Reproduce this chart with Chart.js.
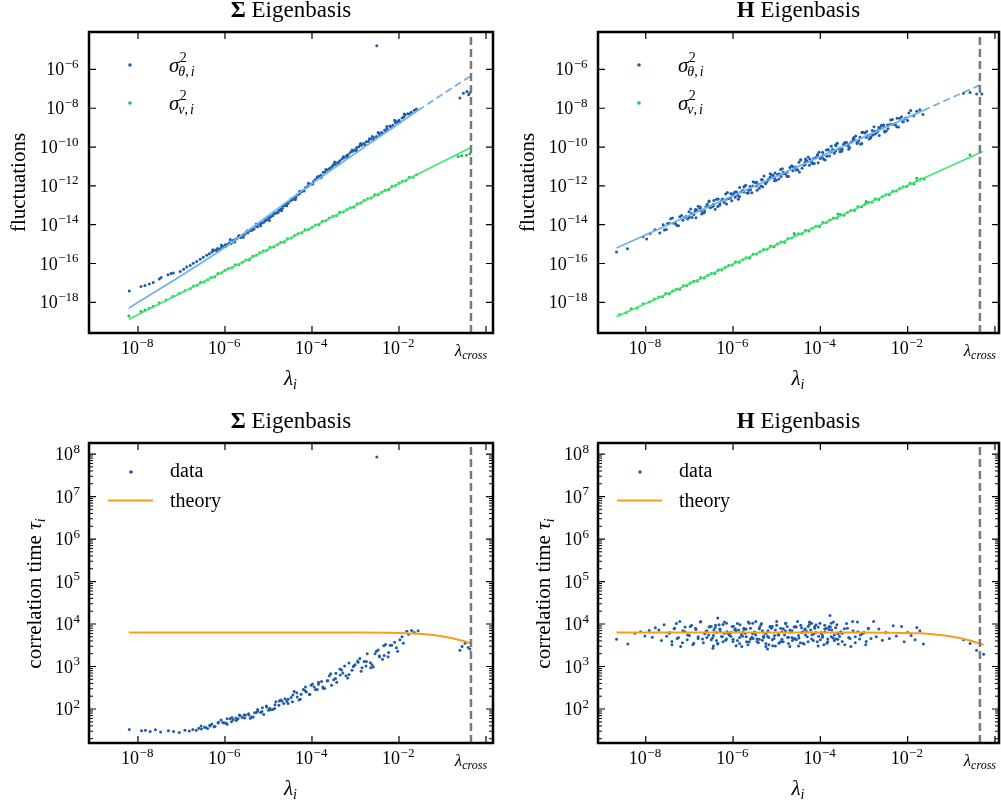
<!DOCTYPE html>
<html>
<head>
<meta charset="utf-8">
<script src="https://cdn.jsdelivr.net/npm/chart.js@4.4.1/dist/chart.umd.min.js"></script>
<style>
html, body { margin: 0; padding: 0; background: #fff; }
#wrap { position: relative; width: 1001px; height: 807px; }
canvas { position: absolute; left: 0; top: 0; }
</style>
</head>
<body>
<div id="wrap">
<canvas id="tl" width="1001" height="807"></canvas>
<canvas id="tr" width="1001" height="807"></canvas>
<canvas id="bl" width="1001" height="807"></canvas>
<canvas id="br" width="1001" height="807"></canvas>
</div>
<script>
// all values are log10 of what is plotted: [log10 lambda, log10 value]
var LAM_CROSS = -0.345;
var X_TICKS = [-8, -6, -4, -2, 0];
var X_LABELS = [-8, -6, -4, -2];
var Y_TICKS_FLUCT = [-18, -16, -14, -12, -10, -8, -6];
var Y_TICKS_TAU = [2, 3, 4, 5, 6, 7, 8];

// Sigma eigenbasis, sigma^2_theta
var sigThetaSigma = [
  [-8.20,-17.41],[-7.93,-17.19],[-7.84,-17.13],[-7.74,-17.05],[-7.65,-16.98],[-7.51,-16.80],[-7.47,-16.72],[-7.31,-16.58],[-7.24,-16.52],[-7.19,-16.49],
  [-7.03,-16.41],[-6.95,-16.30],[-6.88,-16.18],[-6.80,-16.10],[-6.73,-15.98],[-6.65,-15.90],[-6.57,-15.78],[-6.50,-15.68],[-6.42,-15.57],[-6.36,-15.50],
  [-6.30,-15.40],[-6.26,-15.33],[-6.21,-15.30],[-6.17,-15.22],[-6.12,-15.25],[-6.08,-15.15],[-6.03,-15.12],[-5.99,-15.03],[-5.95,-15.02],[-5.90,-14.93],
  [-5.86,-14.95],[-5.82,-14.82],[-5.77,-14.78],[-5.73,-14.72],[-5.69,-14.62],[-5.64,-14.66],[-5.60,-14.53],[-5.55,-14.50],[-5.51,-14.38],[-5.47,-14.42],
  [-5.42,-14.30],[-5.38,-14.21],[-5.33,-14.22],[-5.29,-14.08],[-5.25,-14.10],[-5.20,-13.98],[-5.16,-13.92],[-5.11,-13.87],[-5.07,-13.80],[-5.03,-13.74],
  [-4.98,-13.66],[-4.94,-13.58],[-4.90,-13.53],[-4.85,-13.42],[-4.81,-13.38],[-4.76,-13.27],[-4.72,-13.20],[-4.68,-13.15],[-4.63,-13.02],[-4.59,-12.93],
  [-4.55,-12.90],[-4.50,-12.78],[-4.46,-12.72],[-4.42,-12.60],[-4.37,-12.58],[-4.33,-12.45],[-4.29,-12.40],[-4.24,-12.30],[-4.20,-12.22],[-4.15,-12.10],
  [-4.11,-12.05],[-4.06,-11.93],[-4.02,-11.90],[-3.97,-11.78],[-3.93,-11.68],[-3.88,-11.62],[-3.84,-11.50],[-3.79,-11.45],[-3.74,-11.30],[-3.70,-11.28],
  [-3.65,-11.18],[-3.60,-11.10],[-3.55,-11.02],[-3.50,-10.90],[-3.46,-10.88],[-3.41,-10.80],[-3.36,-10.70],[-3.31,-10.62],[-3.26,-10.55],[-3.21,-10.45],
  [-3.17,-10.40],[-3.12,-10.28],[-3.07,-10.22],[-3.02,-10.15],[-2.97,-10.02],[-2.92,-9.98],[-2.86,-9.90],[-2.81,-9.82],[-2.75,-9.72],[-2.70,-9.70],
  [-2.64,-9.58],[-2.58,-9.52],[-2.52,-9.45],[-2.46,-9.30],[-2.40,-9.25],[-2.33,-9.12],[-2.27,-9.05],[-2.21,-8.92],[-2.14,-8.88],[-2.08,-8.75],
  [-2.00,-8.62],[-1.93,-8.50],[-1.86,-8.35],[-1.80,-8.28],[-1.72,-8.20],[-1.65,-8.10],[-1.60,-8.04],
  [-5.88,-14.98],[-5.49,-14.40],[-5.01,-13.62],[-4.70,-13.28],[-4.40,-12.70],[-4.09,-12.00],[-3.81,-11.58],[-3.52,-10.96],[-3.19,-10.50],[-2.89,-9.88],
  [-2.61,-9.45],[-2.30,-9.18],[-2.02,-8.70],[-2.44,-9.40],[-2.99,-10.20],[-1.89,-8.45],[-2.18,-9.00],[-1.76,-8.30],[-2.10,-8.62],
  [-6.28,-15.29],[-6.18,-15.34],[-6.08,-15.05],[-5.98,-15.11],[-5.88,-14.76],[-5.78,-14.89],[-5.68,-14.55],[-5.58,-14.64],[-5.48,-14.31],[-5.38,-14.29],
  [-5.28,-13.96],[-5.18,-14.05],[-5.08,-13.74],[-4.98,-13.78],[-4.88,-13.39],[-4.78,-13.38],[-4.68,-13.03],[-4.58,-13.02],[-4.48,-12.67],[-4.38,-12.70],
  [-4.28,-12.28],[-4.18,-12.26],[-4.08,-11.86],[-3.98,-11.90],[-3.88,-11.54],[-3.78,-11.54],[-3.68,-11.15],[-3.58,-11.15],[-3.48,-10.77],[-3.38,-10.85],
  [-3.28,-10.50],[-3.18,-10.54],[-3.08,-10.15],[-2.98,-10.13],[-2.88,-9.81],[-2.78,-9.88],[-2.68,-9.57],[-2.58,-9.64],[-2.48,-9.25],[-2.38,-9.29],
  [-2.28,-8.94],[-2.18,-9.00],[-2.08,-8.67],[-1.98,-8.71],[-1.88,-8.30],
  [-0.60,-7.47],[-0.52,-7.22],[-0.44,-7.13],[-0.40,-7.30],[-0.37,-7.20],
  [-2.51,-4.78]
];

// Sigma eigenbasis, sigma^2_v
var sigVSigma = [
  [-8.21,-18.70],[-7.93,-18.47],[-7.84,-18.39],[-7.74,-18.30],[-7.65,-18.20],[-7.51,-18.02],[-7.35,-17.88],[-7.20,-17.70],[-7.05,-17.55],[-6.92,-17.40],[-6.80,-17.30],
  [-6.72,-17.16],[-6.64,-17.12],[-6.56,-16.96],[-6.48,-16.95],[-6.40,-16.83],[-6.32,-16.72],[-6.24,-16.70],[-6.16,-16.52],[-6.08,-16.48],[-6.00,-16.35],
  [-5.92,-16.26],[-5.84,-16.22],[-5.76,-16.06],[-5.68,-16.05],[-5.60,-15.93],[-5.52,-15.82],[-5.44,-15.80],[-5.36,-15.62],[-5.28,-15.58],[-5.20,-15.45],
  [-5.12,-15.36],[-5.04,-15.32],[-4.96,-15.16],[-4.88,-15.15],[-4.80,-15.03],[-4.72,-14.92],[-4.64,-14.90],[-4.56,-14.72],[-4.48,-14.68],[-4.40,-14.55],
  [-4.32,-14.46],[-4.24,-14.42],[-4.16,-14.26],[-4.08,-14.25],[-4.00,-14.13],[-3.92,-14.02],[-3.84,-14.00],[-3.76,-13.82],[-3.68,-13.78],[-3.60,-13.65],
  [-3.52,-13.56],[-3.44,-13.52],[-3.36,-13.36],[-3.28,-13.35],[-3.20,-13.23],[-3.12,-13.12],[-3.04,-13.10],[-2.96,-12.92],[-2.88,-12.88],[-2.80,-12.75],
  [-2.72,-12.66],[-2.64,-12.62],[-2.56,-12.46],[-2.48,-12.45],[-2.40,-12.33],[-2.32,-12.22],[-2.24,-12.20],[-2.16,-12.02],[-2.08,-11.98],[-2.00,-11.85],
  [-1.92,-11.76],[-1.84,-11.72],[-1.76,-11.56],[-1.68,-11.55],[-1.60,-11.43],
  [-0.64,-10.48],[-0.56,-10.45],[-0.45,-10.42],[-0.37,-10.35]
];

// H eigenbasis, sigma^2_theta
var sigThetaH = [
  [-8.67,-15.41],[-8.42,-15.24],[-8.06,-14.62],[-7.98,-14.74],[-7.90,-14.45],[-7.79,-14.26],[-7.68,-14.43],
  [-7.60,-14.00],[-7.53,-14.25],[-7.46,-13.93],[-7.39,-13.66],[-7.32,-13.92],[-7.25,-14.05],[-7.18,-13.52],[-7.11,-13.63],[-7.04,-13.71],[-6.97,-13.19],
  [-6.90,-13.47],[-6.83,-13.24],[-6.76,-13.15],[-6.69,-13.40],[-6.62,-13.08],[-6.55,-12.81],[-6.48,-13.07],[-6.41,-13.20],[-6.34,-12.67],[-6.27,-12.78],
  [-6.20,-12.86],[-6.13,-12.34],[-6.06,-12.62],[-5.99,-12.40],[-5.92,-12.31],[-5.85,-12.56],[-5.78,-12.24],[-5.71,-11.97],[-5.64,-12.23],[-5.57,-12.35],
  [-5.50,-11.82],[-5.43,-11.93],[-5.36,-12.01],[-5.29,-11.49],[-5.22,-11.77],[-5.15,-11.55],[-5.08,-11.46],[-5.01,-11.71],[-4.94,-11.39],[-4.87,-11.12],
  [-4.80,-11.38],[-4.73,-11.51],[-4.66,-10.98],[-4.59,-11.09],[-4.52,-11.17],[-4.45,-10.65],[-4.38,-10.93],[-4.31,-10.70],[-4.24,-10.61],[-4.17,-10.86],
  [-4.10,-10.54],[-4.03,-10.27],[-3.96,-10.53],[-3.89,-10.66],[-3.82,-10.13],[-3.75,-10.24],[-3.68,-10.32],[-3.61,-9.80],[-3.54,-10.08],[-3.47,-9.86],
  [-3.40,-9.77],[-3.33,-10.02],[-3.26,-9.70],[-3.19,-9.43],[-3.12,-9.69],[-3.05,-9.81],[-2.98,-9.28],[-2.91,-9.39],[-2.84,-9.47],[-2.77,-8.95],
  [-2.70,-9.23],[-2.63,-9.01],[-2.56,-8.92],[-2.49,-9.17],[-2.42,-8.85],[-2.35,-8.58],[-2.28,-8.84],[-2.21,-8.97],[-2.14,-8.44],[-2.07,-8.55],
  [-2.00,-8.63],[-1.93,-8.11],[-1.86,-8.38],[-1.79,-8.16],[-1.72,-8.07],[-1.65,-8.32],
  [-7.00,-13.62],[-6.86,-13.22],[-6.72,-13.45],[-6.58,-13.07],[-6.44,-12.75],[-6.30,-12.93],[-6.16,-12.69],[-6.02,-12.45],[-5.88,-12.69],[-5.74,-12.03],
  [-5.60,-12.20],[-5.46,-11.81],[-5.32,-12.04],[-5.18,-11.66],[-5.04,-11.34],[-4.90,-11.52],[-4.76,-11.28],[-4.62,-11.04],[-4.48,-11.28],[-4.34,-10.61],
  [-4.20,-10.79],[-4.06,-10.40],[-3.92,-10.63],[-3.78,-10.25],[-3.64,-9.93],[-3.50,-10.11],[-3.36,-9.87],[-3.22,-9.63],[-3.08,-9.86],[-2.94,-9.20],
  [-2.80,-9.38],[-2.66,-8.99],[-2.52,-9.22],[-2.38,-8.84],[-2.24,-8.52],[-2.10,-8.70],
  [-7.57,-14.27],[-7.50,-13.94],[-7.43,-13.69],[-7.36,-13.92],[-7.29,-14.03],[-7.22,-13.59],[-7.15,-13.77],[-7.08,-13.58],[-7.01,-13.33],[-6.94,-13.63],
  [-6.87,-13.30],[-6.80,-13.05],[-6.73,-13.28],[-6.66,-13.39],[-6.59,-12.95],[-6.52,-13.13],[-6.45,-12.94],[-6.38,-12.69],[-6.31,-13.00],[-6.24,-12.67],
  [-6.17,-12.42],[-6.10,-12.65],[-6.03,-12.76],[-5.96,-12.32],[-5.89,-12.50],[-5.82,-12.31],[-5.75,-12.06],[-5.68,-12.36],[-5.61,-12.03],[-5.54,-11.78],
  [-5.47,-12.01],[-5.40,-12.12],[-5.33,-11.68],[-5.26,-11.86],[-5.19,-11.67],[-5.12,-11.42],[-5.05,-11.73],[-4.98,-11.40],[-4.91,-11.15],[-4.84,-11.38],
  [-4.77,-11.49],[-4.70,-11.05],[-4.63,-11.22],[-4.56,-11.03],[-4.49,-10.78],[-4.42,-11.09],[-4.35,-10.76],[-4.28,-10.51],[-4.21,-10.74],[-4.14,-10.85],
  [-4.07,-10.41],[-4.00,-10.59],[-3.93,-10.40],[-3.86,-10.15],[-3.79,-10.46],[-3.72,-10.13],[-3.65,-9.88],[-3.58,-10.10],[-3.51,-10.21],[-3.44,-9.77],
  [-3.37,-9.95],[-3.30,-9.76],[-3.23,-9.51],[-3.16,-9.82],[-3.09,-9.49],[-3.02,-9.24],[-2.95,-9.47],[-2.88,-9.58],[-2.81,-9.14],[-2.74,-9.32],
  [-2.67,-9.13],[-2.60,-8.88],[-2.53,-9.19],[-2.46,-8.86],[-2.39,-8.61],[-2.32,-8.84],[-2.25,-8.95],[-2.18,-8.51],[-2.11,-8.69],[-2.04,-8.50],
  [-1.97,-8.25],
  [-6.95,-13.42],[-6.85,-13.64],[-6.75,-13.09],[-6.65,-13.29],[-6.55,-12.78],[-6.45,-13.02],[-6.35,-13.06],[-6.25,-12.71],[-6.15,-12.93],[-6.05,-12.39],
  [-5.95,-12.59],[-5.85,-12.08],[-5.75,-12.32],[-5.65,-12.36],[-5.55,-12.00],[-5.45,-12.22],[-5.35,-11.68],[-5.25,-11.88],[-5.15,-11.37],[-5.05,-11.61],
  [-4.95,-11.65],[-4.85,-11.30],[-4.75,-11.52],[-4.65,-10.98],[-4.55,-11.18],[-4.45,-10.67],[-4.35,-10.90],[-4.25,-10.94],[-4.15,-10.59],[-4.05,-10.81],
  [-3.95,-10.27],[-3.85,-10.47],[-3.75,-9.96],[-3.65,-10.20],[-3.55,-10.24],[-3.45,-9.89],[-3.35,-10.11],[-3.25,-9.57],[-3.15,-9.77],[-3.05,-9.25],
  [-2.95,-9.49],[-2.85,-9.53],[-2.75,-9.18],[-2.65,-9.40],[-2.55,-8.86],[-2.45,-9.06],
  [-0.72,-7.22],[-0.57,-7.19],[-0.42,-7.27],[-0.30,-7.27]
];

// H eigenbasis, sigma^2_v
var sigVH = [
  [-8.60,-18.64],[-8.45,-18.54],[-8.33,-18.33],[-8.20,-18.29],[-8.06,-18.07],[-7.92,-17.98],[-7.80,-17.83],
  [-7.70,-17.72],[-7.62,-17.71],[-7.54,-17.54],[-7.46,-17.56],[-7.38,-17.42],[-7.30,-17.32],[-7.22,-17.33],[-7.14,-17.14],[-7.06,-17.13],[-6.98,-17.01],
  [-6.90,-16.91],[-6.82,-16.90],[-6.74,-16.72],[-6.66,-16.75],[-6.58,-16.61],[-6.50,-16.51],[-6.42,-16.52],[-6.34,-16.33],[-6.26,-16.32],[-6.18,-16.20],
  [-6.10,-16.10],[-6.02,-16.08],[-5.94,-15.91],[-5.86,-15.94],[-5.78,-15.80],[-5.70,-15.70],[-5.62,-15.71],[-5.54,-15.52],[-5.46,-15.51],[-5.38,-15.39],
  [-5.30,-15.28],[-5.22,-15.27],[-5.14,-15.10],[-5.06,-15.13],[-4.98,-14.99],[-4.90,-14.89],[-4.82,-14.90],[-4.74,-14.71],[-4.66,-14.69],[-4.58,-14.57],
  [-4.50,-14.47],[-4.42,-14.46],[-4.34,-14.29],[-4.26,-14.32],[-4.18,-14.18],[-4.10,-14.08],[-4.02,-14.09],[-3.94,-13.89],[-3.86,-13.88],[-3.78,-13.76],
  [-3.70,-13.66],[-3.62,-13.65],[-3.54,-13.48],[-3.46,-13.51],[-3.38,-13.37],[-3.30,-13.27],[-3.22,-13.27],[-3.14,-13.08],[-3.06,-13.07],[-2.98,-12.95],
  [-2.90,-12.85],[-2.82,-12.84],[-2.74,-12.67],[-2.66,-12.70],[-2.58,-12.56],[-2.50,-12.45],[-2.42,-12.46],[-2.34,-12.27],[-2.26,-12.26],[-2.18,-12.14],
  [-2.10,-12.04],[-2.02,-12.03],[-1.94,-11.86],[-1.86,-11.89],[-1.78,-11.74],[-1.70,-11.64],[-1.62,-11.65],
  [-2.95,-12.80],[-3.60,-13.45],[-1.79,-11.60],[-4.60,-14.45],
  [-0.57,-10.40]
];

// Sigma eigenbasis, correlation time
var tauSigma = [
  [-8.20,1.52],[-7.92,1.49],[-7.83,1.50],[-7.72,1.47],[-7.60,1.51],[-7.48,1.46],[-7.30,1.49],[-7.18,1.47],[-7.05,1.45],[-6.92,1.50],
  [-6.82,1.48],[-6.74,1.52],[-6.66,1.50],[-6.60,1.55],[-6.54,1.53],[-6.47,1.57],[-6.40,1.54],[-6.34,1.60],
  [-6.30,1.65],[-6.23,1.59],[-6.16,1.67],[-6.09,1.74],[-6.02,1.67],[-5.95,1.64],[-5.88,1.77],[-5.81,1.75],[-5.74,1.73],[-5.67,1.86],
  [-5.60,1.80],[-5.53,1.86],[-5.46,1.89],[-5.39,1.81],[-5.32,1.91],[-5.25,1.99],[-5.18,1.92],[-5.11,1.87],[-5.04,2.05],[-4.97,2.02],
  [-4.90,1.99],[-4.83,2.17],[-4.76,2.09],[-4.69,2.19],[-4.62,2.24],[-4.55,2.13],[-4.48,2.27],[-4.41,2.41],[-4.34,2.28],[-4.27,2.23],
  [-4.20,2.46],[-4.13,2.40],[-4.06,2.34],[-3.99,2.59],[-3.92,2.46],[-3.85,2.58],[-3.78,2.65],[-3.71,2.48],[-3.64,2.67],[-3.57,2.83],
  [-3.50,2.69],[-3.43,2.63],[-3.36,2.94],[-3.29,2.85],[-3.22,2.78],[-3.15,3.08],[-3.08,2.91],[-3.01,3.04],[-2.94,3.10],[-2.87,2.89],
  [-2.80,3.12],[-2.73,3.30],[-2.66,3.09],[-2.59,2.99],[-2.52,3.36],[-2.45,3.25],[-2.38,3.17],[-2.31,3.52],[-2.24,3.33],[-2.17,3.50],
  [-2.10,3.57],[-2.03,3.36],
  [-5.98,1.67],[-5.84,1.80],[-5.70,1.77],[-5.56,1.86],[-5.42,1.78],[-5.28,1.92],[-5.14,2.03],[-5.00,1.97],[-4.86,2.01],[-4.72,2.21],
  [-4.58,2.18],[-4.44,2.33],[-4.30,2.21],[-4.16,2.43],[-4.02,2.56],[-3.88,2.46],[-3.74,2.49],[-3.60,2.78],[-3.46,2.72],[-3.32,2.92],
  [-3.18,2.73],[-3.04,3.01],[-2.90,3.19],[-2.76,3.01],[-2.62,3.04],[-2.48,3.39],[-2.34,3.26],[-2.20,3.50],
  [-6.55,1.60],[-6.45,1.57],[-6.35,1.62],[-6.25,1.58],[-6.15,1.69],[-6.05,1.68],[-5.95,1.77],[-5.85,1.70],[-5.75,1.79],[-5.65,1.84],
  [-5.55,1.79],[-5.45,1.86],[-5.35,1.81],[-5.25,1.95],[-5.15,1.94],[-5.05,2.07],[-4.95,1.98],[-4.85,2.10],[-4.75,2.19],[-4.65,2.13],
  [-4.55,2.23],[-4.45,2.17],[-4.35,2.38],[-4.25,2.35],[-4.15,2.52],[-4.05,2.35],[-3.95,2.52],[-3.85,2.63],[-3.75,2.52],[-3.65,2.66],
  [-3.55,2.56],[-3.45,2.84],[-3.35,2.80],[-3.25,3.01],[-3.15,2.81],[-3.05,3.00],[-2.95,3.13],[-2.85,2.97],[-2.75,3.12],[-2.65,2.97],
  [-2.55,3.30],[-2.45,3.23],[-2.35,3.49],[-2.25,3.23],
  [-1.98,3.63],[-1.93,3.70],[-1.90,3.55],[-1.82,3.83],[-1.78,3.76],[-1.71,3.85],[-1.65,3.80],[-1.56,3.84],[-2.06,3.44],
  [-0.60,3.38],[-0.55,3.47],[-0.48,3.55],[-0.41,3.45],[-0.37,3.41],
  [-2.51,7.93]
];

// H eigenbasis, correlation time
var tauH = [
  [-8.67,3.64],[-8.41,3.53],[-8.25,3.78],[-8.12,3.82],[-8.02,3.72],[-7.92,3.85],[-7.85,3.69],[-7.78,3.91],
  [-7.70,3.86],[-7.64,3.61],[-7.58,3.98],[-7.52,3.71],[-7.46,3.78],[-7.40,3.51],[-7.34,3.90],[-7.28,3.66],[-7.22,4.06],[-7.16,3.56],[-7.10,3.82],[-7.04,3.74],[-6.98,3.94],
  [-6.92,3.51],[-6.86,3.90],[-6.80,3.66],[-6.74,4.06],[-6.68,3.56],[-6.62,3.82],[-6.56,3.74],[-6.50,3.94],[-6.44,3.86],[-6.38,3.61],[-6.32,3.98],[-6.26,3.71],[-6.20,3.78],
  [-6.14,3.82],[-6.08,3.74],[-6.02,3.94],[-5.96,3.86],[-5.90,3.61],[-5.84,3.98],[-5.78,3.71],[-5.72,3.78],[-5.66,3.51],[-5.60,3.90],[-5.54,3.66],[-5.48,4.06],[-5.42,3.56],
  [-5.36,3.98],[-5.30,3.71],[-5.24,3.78],[-5.18,3.51],[-5.12,3.90],[-5.06,3.66],[-5.00,4.06],[-4.94,3.56],[-4.88,3.82],[-4.82,3.74],[-4.76,3.94],[-4.70,3.86],[-4.64,3.61],
  [-4.58,3.66],[-4.52,4.06],[-4.46,3.56],[-4.40,3.82],[-4.34,3.74],[-4.28,3.94],[-4.22,3.86],[-4.16,3.61],[-4.10,3.98],[-4.04,3.71],[-3.98,3.78],[-3.92,3.51],[-3.86,3.90],
  [-3.80,3.94],[-3.74,3.86],[-3.68,3.61],[-3.62,3.98],[-3.56,3.71],[-3.50,3.78],[-3.44,3.51],[-3.38,3.90],[-3.32,3.66],[-3.26,4.06],[-3.20,3.56],[-3.14,3.82],[-3.08,3.74],
  [-3.02,3.78],[-2.96,3.51],[-2.90,3.90],[-2.84,3.66],[-2.78,4.06],
  [-6.60,3.68],[-6.53,3.94],[-6.45,3.48],[-6.38,3.80],[-6.30,3.88],[-6.23,3.58],[-6.15,4.02],[-6.08,3.74],[-6.00,3.64],[-5.93,3.84],[-5.85,3.54],
  [-5.78,3.80],[-5.70,3.88],[-5.63,3.58],[-5.55,4.02],[-5.48,3.74],[-5.40,3.64],[-5.33,3.84],[-5.25,3.54],[-5.18,3.68],[-5.10,3.94],[-5.03,3.48],
  [-4.95,3.74],[-4.88,3.64],[-4.80,3.84],[-4.73,3.54],[-4.65,3.68],[-4.58,3.94],[-4.50,3.48],[-4.43,3.80],[-4.35,3.88],[-4.28,3.58],[-4.20,4.02],
  [-4.13,3.94],[-4.05,3.48],[-3.98,3.80],[-3.90,3.88],[-3.83,3.58],[-3.75,4.02],[-3.68,3.74],[-3.60,3.64],
  [-7.45,3.80],[-7.40,3.59],[-7.35,3.89],[-7.30,4.01],[-7.25,3.68],[-7.20,3.47],[-7.15,3.84],[-7.10,3.93],[-7.05,3.63],[-7.00,3.73],
  [-6.95,3.97],[-6.90,3.55],[-6.85,3.87],[-6.80,3.70],[-6.75,4.05],[-6.70,3.65],[-6.65,3.77],
  [-6.60,3.84],[-6.55,3.93],[-6.50,3.63],[-6.45,3.73],[-6.40,3.97],[-6.35,3.55],[-6.30,3.87],[-6.25,3.70],[-6.20,4.05],[-6.15,3.65],
  [-6.10,3.77],[-6.05,3.80],[-6.00,3.59],[-5.95,3.89],[-5.90,4.01],[-5.85,3.68],[-5.80,3.47],
  [-5.75,3.87],[-5.70,3.70],[-5.65,4.05],[-5.60,3.65],[-5.55,3.77],[-5.50,3.80],[-5.45,3.59],[-5.40,3.89],[-5.35,4.01],[-5.30,3.68],
  [-5.25,3.47],[-5.20,3.84],[-5.15,3.93],[-5.10,3.63],[-5.05,3.73],[-5.00,3.97],[-4.95,3.55],
  [-4.90,3.59],[-4.85,3.89],[-4.80,4.01],[-4.75,3.68],[-4.70,3.47],[-4.65,3.84],[-4.60,3.93],[-4.55,3.63],[-4.50,3.73],[-4.45,3.97],
  [-4.40,3.55],[-4.35,3.87],[-4.30,3.70],[-4.25,4.05],[-4.20,3.65],[-4.15,3.77],[-4.10,3.80],
  [-4.05,3.93],[-4.00,3.63],[-3.95,3.73],[-3.90,3.97],[-3.85,3.55],[-3.80,3.87],[-3.75,3.70],[-3.70,4.05],[-3.65,3.65],[-3.60,3.77],
  [-3.55,3.80],[-3.50,3.59],[-3.45,3.89],[-3.40,4.01],[-3.35,3.68],[-3.30,3.47],[-3.25,3.84],
  [-3.20,3.70],[-3.15,4.05],[-3.10,3.65],[-3.05,3.77],[-3.00,3.80],[-2.95,3.59],[-2.90,3.89],
  [-6.47,3.67],[-6.41,3.91],[-6.35,3.53],[-6.29,3.82],[-6.23,3.99],[-6.17,3.62],[-6.11,3.78],[-6.05,3.71],[-5.99,3.95],[-5.93,3.49],
  [-5.87,3.86],[-5.81,3.75],[-5.75,3.90],[-5.69,3.58],[-5.63,4.02],[-5.57,3.69],[-5.51,3.81],[-5.45,3.65],[-5.39,3.93],
  [-5.33,3.62],[-5.27,3.78],[-5.21,3.71],[-5.15,3.95],[-5.09,3.49],[-5.03,3.86],[-4.97,3.75],[-4.91,3.90],[-4.85,3.58],[-4.79,4.02],
  [-4.73,3.69],[-4.67,3.81],[-4.61,3.65],[-4.55,3.93],[-4.49,3.67],[-4.43,3.91],[-4.37,3.53],[-4.31,3.82],[-4.25,3.99],
  [-4.19,3.75],[-4.13,3.90],[-4.07,3.58],[-4.01,4.02],[-3.95,3.69],[-3.89,3.81],[-3.83,3.65],[-3.77,3.93],[-3.71,3.67],[-3.65,3.91],
  [-3.59,3.53],[-3.53,3.82],
  [-2.72,3.70],[-2.66,3.88],[-2.58,3.62],[-2.50,3.80],[-2.42,3.66],[-2.33,3.96],[-2.26,3.72],[-2.14,3.94],[-2.08,3.58],[-2.00,3.80],
  [-1.92,3.73],[-1.83,3.63],[-1.79,3.92],[-1.72,3.84],[-1.64,3.53],
  [-6.35,4.14],[-3.78,4.20],[-6.46,3.43],[-5.21,3.41],
  [-0.72,3.63],[-0.57,3.54],[-0.42,3.38],[-0.26,3.29]
];

// fitted / theory curves
var fitThetaSigma = [[-8.21,-18.30],[-6.11,-15.33],[-4.05,-11.96],[-1.56,-8.10]];
var fitThetaSigmaExt = [[-1.56,-8.10],[-0.37,-6.36]];
var fitVSigma = [[-8.21,-18.87],[-0.37,-10.05]];
var fitThetaH = [[-8.67,-15.20],[-1.64,-8.11]];
var fitThetaHExt = [[-1.64,-8.11],[-0.28,-6.74]];
var fitVH = [[-8.67,-18.74],[-0.28,-10.23]];
var theorySigma = [[-8.21,3.80],[-3.00,3.80],[-2.00,3.79],[-1.52,3.77],[-1.06,3.72],[-0.75,3.66],[-0.52,3.60],[-0.35,3.55]];
var theoryH = [[-8.67,3.80],[-3.00,3.80],[-2.20,3.79],[-1.72,3.78],[-1.41,3.76],[-1.03,3.71],[-0.64,3.63],[-0.26,3.51]];

var BLUE = '#1f5ca8', LBLUE = '#6db3ec', GREEN = '#22bd55', LGREEN = '#40e874', ORANGE = '#f89e1b', GREY = '#7a7a7a';
var SERIF = '"Liberation Serif", "DejaVu Serif", serif';

function toXY(arr) {
    return arr.map(function (p) { return { x: Math.pow(10, p[0]), y: Math.pow(10, p[1]) }; });
}

function dots(arr, color) {
    return { data: toXY(arr), backgroundColor: color, borderWidth: 0, pointRadius: 1.5, pointHoverRadius: 0, showLine: false, order: 2 };
}

function curve(arr, color, width, dash, smooth) {
    return {
        data: toXY(arr), borderColor: color, borderWidth: width, borderDash: dash || [],
        pointRadius: 0, pointHoverRadius: 0, showLine: true, fill: false, order: 1,
        cubicInterpolationMode: smooth ? 'monotone' : 'default', tension: smooth ? 0.4 : 0
    };
}

function crossLine(yMin, yMax) {
    return curve([[LAM_CROSS, yMin], [LAM_CROSS, yMax]], GREY, 2.5, [8, 4]);
}

function setFont(ctx, size, style) {
    ctx.font = (style ? style + ' ' : '') + size + 'px ' + SERIF;
}

// "10" with a raised exponent, like matplotlib's log tick labels
function powLabel(ctx, e, x, y, align) {
    var ex = e < 0 ? '\u2212' + (-e) : String(e);
    setFont(ctx, 18);
    var wb = ctx.measureText('10').width;
    setFont(ctx, 13);
    var we = ctx.measureText(ex).width + (e < 0 ? 1.5 : 0);
    var x0 = align === 'right' ? x - wb - we - 0.5 : x - (wb + we + 0.5) / 2;
    ctx.textAlign = 'left';
    setFont(ctx, 18);
    ctx.fillText('10', x0, y);
    setFont(ctx, 13);
    ctx.fillText(ex, x0 + wb + 0.5, y - 7.5);
}

var decorPlugin = {
    id: 'decor',
    afterDraw: function (chart, args, o) {
        var ctx = chart.ctx, a = chart.chartArea, xs = chart.scales.x, ys = chart.scales.y;
        ctx.save();
        ctx.fillStyle = '#000';
        ctx.strokeStyle = '#000';
        ctx.textBaseline = 'alphabetic';

        // inward ticks on all four sides
        ctx.lineWidth = 1.2;
        ctx.beginPath();
        X_TICKS.forEach(function (e) {
            var px = xs.getPixelForValue(Math.pow(10, e));
            ctx.moveTo(px, a.bottom); ctx.lineTo(px, a.bottom - 7);
            ctx.moveTo(px, a.top); ctx.lineTo(px, a.top + 7);
        });
        o.yTicks.forEach(function (e) {
            var py = ys.getPixelForValue(Math.pow(10, e));
            ctx.moveTo(a.left, py); ctx.lineTo(a.left + 7, py);
            ctx.moveTo(a.right, py); ctx.lineTo(a.right - 7, py);
        });
        ctx.stroke();
        if (o.yMinor) {
            ctx.lineWidth = 1;
            ctx.beginPath();
            for (var n = 1; n <= 8; n++) {
                for (var m = 2; m <= 9; m++) {
                    var v = m * Math.pow(10, n);
                    if (v < ys.min || v > ys.max) continue;
                    var py = ys.getPixelForValue(v);
                    ctx.moveTo(a.left, py); ctx.lineTo(a.left + 4, py);
                    ctx.moveTo(a.right, py); ctx.lineTo(a.right - 4, py);
                }
            }
            ctx.stroke();
        }

        // frame
        ctx.lineWidth = 2.5;
        ctx.strokeRect(a.left, a.top, a.right - a.left, a.bottom - a.top);

        // tick labels
        X_LABELS.forEach(function (e) {
            powLabel(ctx, e, xs.getPixelForValue(Math.pow(10, e)), a.bottom + 21, 'center');
        });
        o.yTicks.forEach(function (e) {
            powLabel(ctx, e, a.left - 9, ys.getPixelForValue(Math.pow(10, e)) + 6, 'right');
        });
        var pc = xs.getPixelForValue(Math.pow(10, LAM_CROSS));
        setFont(ctx, 17, 'italic');
        var wl = ctx.measureText('\u03bb').width;
        setFont(ctx, 12, 'italic');
        var wc = ctx.measureText('cross').width;
        ctx.textAlign = 'left';
        setFont(ctx, 17, 'italic');
        ctx.fillText('\u03bb', pc - (wl + wc) / 2, a.bottom + 23);
        setFont(ctx, 12, 'italic');
        ctx.fillText('cross', pc - (wl + wc) / 2 + wl, a.bottom + 26);

        // x axis title
        var cx = (a.left + a.right) / 2;
        setFont(ctx, 21, 'italic');
        var wlam = ctx.measureText('\u03bb').width;
        ctx.fillText('\u03bb', cx - (wlam + 5) / 2, a.bottom + 52);
        setFont(ctx, 14, 'italic');
        ctx.fillText('i', cx - (wlam + 5) / 2 + wlam, a.bottom + 56);

        // y axis title
        ctx.save();
        ctx.translate(a.left - o.yTitleGap, (a.top + a.bottom) / 2);
        ctx.rotate(-Math.PI / 2);
        if (o.kind === 'fluct') {
            setFont(ctx, 21);
            ctx.textAlign = 'center';
            ctx.fillText('fluctuations', 0, 0);
        } else {
            setFont(ctx, 21);
            var w1 = ctx.measureText('correlation time ').width;
            setFont(ctx, 21, 'italic');
            var w2 = ctx.measureText('\u03c4').width;
            var x0 = -(w1 + w2 + 5) / 2;
            ctx.textAlign = 'left';
            setFont(ctx, 21);
            ctx.fillText('correlation time ', x0, 0);
            setFont(ctx, 21, 'italic');
            ctx.fillText('\u03c4', x0 + w1, 0);
            setFont(ctx, 14, 'italic');
            ctx.fillText('i', x0 + w1 + w2, 4);
        }
        ctx.restore();

        // panel title
        setFont(ctx, 23, 'bold');
        var wt1 = ctx.measureText(o.title).width;
        setFont(ctx, 23);
        var wt2 = ctx.measureText(' Eigenbasis').width;
        ctx.textAlign = 'left';
        setFont(ctx, 23, 'bold');
        ctx.fillText(o.title, cx - (wt1 + wt2) / 2, a.top - 15.5);
        setFont(ctx, 23);
        ctx.fillText(' Eigenbasis', cx - (wt1 + wt2) / 2 + wt1, a.top - 15.5);

        // legend
        ctx.textAlign = 'left';
        if (o.kind === 'fluct') {
            [['\u03b8', BLUE, 33, 39.5], ['v', GREEN, 71, 77.7]].forEach(function (it) {
                ctx.fillStyle = it[1];
                ctx.beginPath();
                ctx.arc(a.left + 41, a.top + it[2], 1.8, 0, Math.PI * 2);
                ctx.fill();
                ctx.fillStyle = '#000';
                var lx = a.left + 80, by = a.top + it[3];
                setFont(ctx, 21, 'italic');
                var ws = ctx.measureText('\u03c3').width;
                ctx.fillText('\u03c3', lx, by);
                setFont(ctx, 14);
                ctx.fillText('2', lx + ws + 0.5, by - 10);
                setFont(ctx, 14, 'italic');
                var sx = lx + ws - 1;
                ctx.fillText(it[0], sx, by + 4);
                sx += ctx.measureText(it[0]).width;
                setFont(ctx, 14);
                ctx.fillText(',', sx, by + 4);
                sx += ctx.measureText(',').width + 2;
                setFont(ctx, 14, 'italic');
                ctx.fillText('i', sx, by + 4);
            });
        } else {
            ctx.fillStyle = BLUE;
            ctx.beginPath();
            ctx.arc(a.left + 42, a.top + 29, 1.8, 0, Math.PI * 2);
            ctx.fill();
            ctx.strokeStyle = ORANGE;
            ctx.lineWidth = 2;
            ctx.beginPath();
            ctx.moveTo(a.left + 19, a.top + 57.5);
            ctx.lineTo(a.left + 64, a.top + 57.5);
            ctx.stroke();
            ctx.fillStyle = '#000';
            setFont(ctx, 20);
            ctx.fillText('data', a.left + 81, a.top + 34);
            ctx.fillText('theory', a.left + 81, a.top + 64);
        }
        ctx.restore();
    }
};

function makePanel(id, box, xr, yr, datasets, decor) {
    return new Chart(document.getElementById(id), {
        type: 'scatter',
        data: { datasets: datasets },
        options: {
            responsive: false,
            animation: false,
            devicePixelRatio: 1,
            events: [],
            layout: { padding: { left: box[0], top: box[1], right: 1001 - box[2], bottom: 807 - box[3] } },
            scales: {
                x: { type: 'logarithmic', display: false, bounds: 'data', min: Math.pow(10, xr[0]), max: Math.pow(10, xr[1]) },
                y: { type: 'logarithmic', display: false, bounds: 'data', min: Math.pow(10, yr[0]), max: Math.pow(10, yr[1]) }
            },
            plugins: { legend: { display: false }, tooltip: { enabled: false }, decor: decor }
        },
        plugins: [decorPlugin]
    });
}

var FLUCT_Y = [-19.58, -4.07];
var TAU_Y = [1.2, 8.26];

makePanel('tl', [89, 32, 493, 333], [-9.126, 0.161], FLUCT_Y, [
    crossLine(FLUCT_Y[0], FLUCT_Y[1]),
    curve(fitThetaSigma, LBLUE, 1.8, null, true),
    curve(fitThetaSigmaExt, LBLUE, 1.8, [7, 4]),
    curve(fitVSigma, LGREEN, 1.8),
    dots(sigThetaSigma, BLUE),
    dots(sigVSigma, GREEN)
], { title: '\u03a3', kind: 'fluct', yTicks: Y_TICKS_FLUCT, yMinor: false, yTitleGap: 64 });

makePanel('tr', [598, 32, 999, 333], [-9.094, 0.093], FLUCT_Y, [
    crossLine(FLUCT_Y[0], FLUCT_Y[1]),
    curve(fitThetaH, LBLUE, 1.8),
    curve(fitThetaHExt, LBLUE, 1.8, [7, 4]),
    curve(fitVH, LGREEN, 1.8),
    dots(sigThetaH, BLUE),
    dots(sigVH, GREEN)
], { title: 'H', kind: 'fluct', yTicks: Y_TICKS_FLUCT, yMinor: false, yTitleGap: 64 });

makePanel('bl', [89, 443, 493, 743], [-9.126, 0.161], TAU_Y, [
    crossLine(TAU_Y[0], TAU_Y[1]),
    curve(theorySigma, ORANGE, 2, null, true),
    dots(tauSigma, BLUE)
], { title: '\u03a3', kind: 'tau', yTicks: Y_TICKS_TAU, yMinor: true, yTitleGap: 48 });

makePanel('br', [598, 443, 999, 743], [-9.094, 0.093], TAU_Y, [
    crossLine(TAU_Y[0], TAU_Y[1]),
    curve(theoryH, ORANGE, 2, null, true),
    dots(tauH, BLUE)
], { title: 'H', kind: 'tau', yTicks: Y_TICKS_TAU, yMinor: true, yTitleGap: 48 });
</script>
</body>
</html>
